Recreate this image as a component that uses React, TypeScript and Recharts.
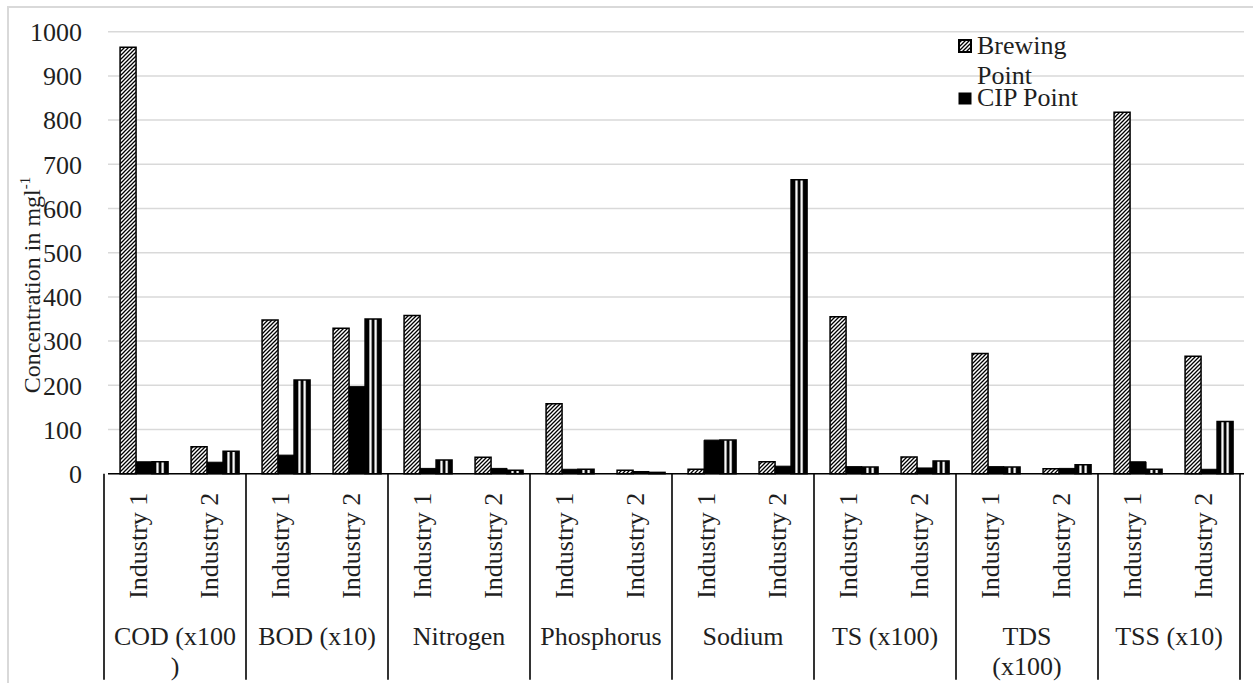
import React from 'react';
import { BarChart, Bar, XAxis, YAxis, CartesianGrid, Legend, Label } from 'recharts';

// ---------- data ----------
const groups = ['COD (x100)', 'BOD (x10)', 'Nitrogen', 'Phosphorus', 'Sodium', 'TS (x100)', 'TDS (x100)', 'TSS (x10)'];
const groupLabelLines = [['COD (x100', ')'], ['BOD (x10)'], ['Nitrogen'], ['Phosphorus'], ['Sodium'], ['TS (x100)'], ['TDS', '(x100)'], ['TSS (x10)']];
const industries = ['Industry 1', 'Industry 2'];
const seriesNames = ['Brewing Point', 'CIP Point', 'Series 3'];
const brewingPoint = [965, 61, 348, 329, 358, 37, 158, 8, 10, 27, 355, 38, 272, 11, 818, 266];
const cipPoint = [27, 26, 42, 197, 12, 12, 10, 5, 76, 17, 16, 13, 16, 12, 27, 10];
const thirdPoint = [27, 51, 212, 350, 31, 8, 10, 3, 76, 665, 15, 29, 15, 20, 10, 118];
const yTicks = [0, 100, 200, 300, 400, 500, 600, 700, 800, 900, 1000];

const data = groups.flatMap((g, gi) =>
  industries.map((ind, ii) => {
    const i = gi * 2 + ii;
    return { key: g + ' ' + ind, group: g, industry: ind, brewing: brewingPoint[i], cip: cipPoint[i], third: thirdPoint[i] };
  })
);

// ---------- layout / style ----------
const FONT = '"Liberation Serif", "Times New Roman", Times, serif';
const TEXT = '#1f1f1f';
const CHART_W = 1253;
const CHART_H = 683;
const MARGIN = { top: 31.7, right: 9, left: 8, bottom: 0 };
const Y_AXIS_W = 100;
const X_AXIS_H = 209.3;
const SLOT = (CHART_W - MARGIN.left - MARGIN.right - Y_AXIS_W) / data.length;
const SEP_SHIFT = -4;

function XTick(props: any) {
  const { x, y, payload } = props;
  const i = payload && payload.index != null ? payload.index : props.index;
  const row = data[i];
  if (!row) return null;
  const first = i % 2 === 0;
  const gi = Math.floor(i / 2);
  return (
    <g>
      <text
        transform={`translate(${x + 3},${y + 19}) rotate(-90)`}
        textAnchor="end"
        style={{ fontFamily: FONT }}
        fontSize={26}
        fill={TEXT}
      >
        {row.industry}
      </text>
      {first && (
        <line x1={x - SLOT / 2 + SEP_SHIFT} x2={x - SLOT / 2 + SEP_SHIFT} y1={y} y2={y + 206} stroke="#000" strokeWidth={1.6} />
      )}
      {first &&
        groupLabelLines[gi].map((ln, k) => (
          <text key={k} x={x + SLOT / 2 + SEP_SHIFT} y={y + 171 + k * 30} textAnchor="middle" style={{ fontFamily: FONT }} fontSize={26} fill={TEXT}>
            {ln}
          </text>
        ))}
      {i === data.length - 1 && (
        <line x1={x + SLOT / 2 + SEP_SHIFT} x2={x + SLOT / 2 + SEP_SHIFT} y1={y} y2={y + 206} stroke="#000" strokeWidth={1.6} />
      )}
    </g>
  );
}

function YTitle(props: any) {
  const vb = props.viewBox || { x: 8 };
  return (
    <text transform={`translate(${vb.x + 32},285) rotate(-90)`} textAnchor="middle" style={{ fontFamily: FONT }} fontSize={24} fill={TEXT}>
      Concentration in mgl
      <tspan fontSize={15} dy={-10}>-1</tspan>
    </text>
  );
}

function PatternDefs({ prefix }: { prefix: string }) {
  return (
    <defs>
      <pattern id={prefix + 'hatch'} patternUnits="userSpaceOnUse" width={4} height={4}>
        <rect width={4} height={4} fill="#fff" />
        <path d="M-1,1 l2,-2 M0,4 l4,-4 M3,5 l2,-2" stroke="#000" strokeWidth={1.3} />
      </pattern>
      <pattern id={prefix + 'vstripe'} patternUnits="objectBoundingBox" patternContentUnits="objectBoundingBox" width={1} height={1}>
        <rect width={1} height={1} fill="#000" />
        <rect x={0.27} width={0.14} height={1} fill="#fff" />
        <rect x={0.59} width={0.14} height={1} fill="#fff" />
      </pattern>
    </defs>
  );
}

function LegendContent() {
  const itemStyle: React.CSSProperties = {
    position: 'absolute',
    left: 0,
    fontFamily: FONT,
    fontSize: 26,
    lineHeight: '30px',
    color: TEXT,
    whiteSpace: 'normal',
    textAlign: 'left',
  };
  return (
    <div style={{ position: 'relative', width: 140, height: 110 }}>
      <svg width={20} height={110} style={{ position: 'absolute', left: 0, top: 0 }}>
        <PatternDefs prefix="lg-" />
        <rect x={4} y={9} width={12} height={12} fill="url(#lg-hatch)" stroke="#000" strokeWidth={2} />
        <rect x={4} y={62} width={12} height={11} fill="#000" stroke="#000" strokeWidth={1} />
      </svg>
      <div style={{ ...itemStyle, top: 0, left: 22, width: 110 }}>{seriesNames[0]}</div>
      <div style={{ ...itemStyle, top: 52, left: 22, width: 130 }}>{seriesNames[1]}</div>
    </div>
  );
}

export default function App() {
  return (
    <div style={{ position: 'absolute', left: 0, top: 0, width: CHART_W, height: CHART_H, overflow: 'hidden', background: '#fff', fontFamily: FONT }}>
      <div
        style={{
          position: 'absolute',
          left: 7,
          top: 6,
          width: 1300,
          height: 760,
          borderLeft: '2px solid #d9d9d9',
          borderTop: '2px solid #d9d9d9',
        }}
      />
      <div style={{ position: 'absolute', left: 0, top: 0 }}>
        <BarChart width={CHART_W} height={CHART_H} data={data} margin={MARGIN} barCategoryGap="17%" barGap={0}>
          <PatternDefs prefix="ch-" />
          <CartesianGrid vertical={false} stroke="#d9d9d9" strokeWidth={1.5} />
          <XAxis
            dataKey="key"
            interval={0}
            height={X_AXIS_H}
            tick={<XTick />}
            tickLine={false}
            tickSize={0}
            tickMargin={0}
            axisLine={{ stroke: '#000', strokeWidth: 1.6 }}
          />
          <YAxis
            width={Y_AXIS_W}
            domain={[0, 1000]}
            ticks={yTicks}
            interval={0}
            axisLine={false}
            tickLine={false}
            tickSize={0}
            tickMargin={26}
            tick={{ fontFamily: FONT, fontSize: 26, fill: TEXT, style: { fontFamily: FONT } }}
          >
            <Label content={<YTitle />} />
          </YAxis>
          <Legend
            layout="horizontal"
            verticalAlign="middle"
            align="center"
            content={<LegendContent />}
            wrapperStyle={{ position: 'absolute', left: 955, top: 31, width: 150, height: 110 }}
          />
          <Bar dataKey="brewing" name={seriesNames[0]} fill="url(#ch-hatch)" stroke="#000" strokeWidth={1.5} isAnimationActive={false} />
          <Bar dataKey="cip" name={seriesNames[1]} fill="#000" stroke="#000" strokeWidth={1} isAnimationActive={false} />
          <Bar dataKey="third" name={seriesNames[2]} legendType="none" fill="url(#ch-vstripe)" stroke="#000" strokeWidth={1.5} isAnimationActive={false} />
        </BarChart>
      </div>
    </div>
  );
}
